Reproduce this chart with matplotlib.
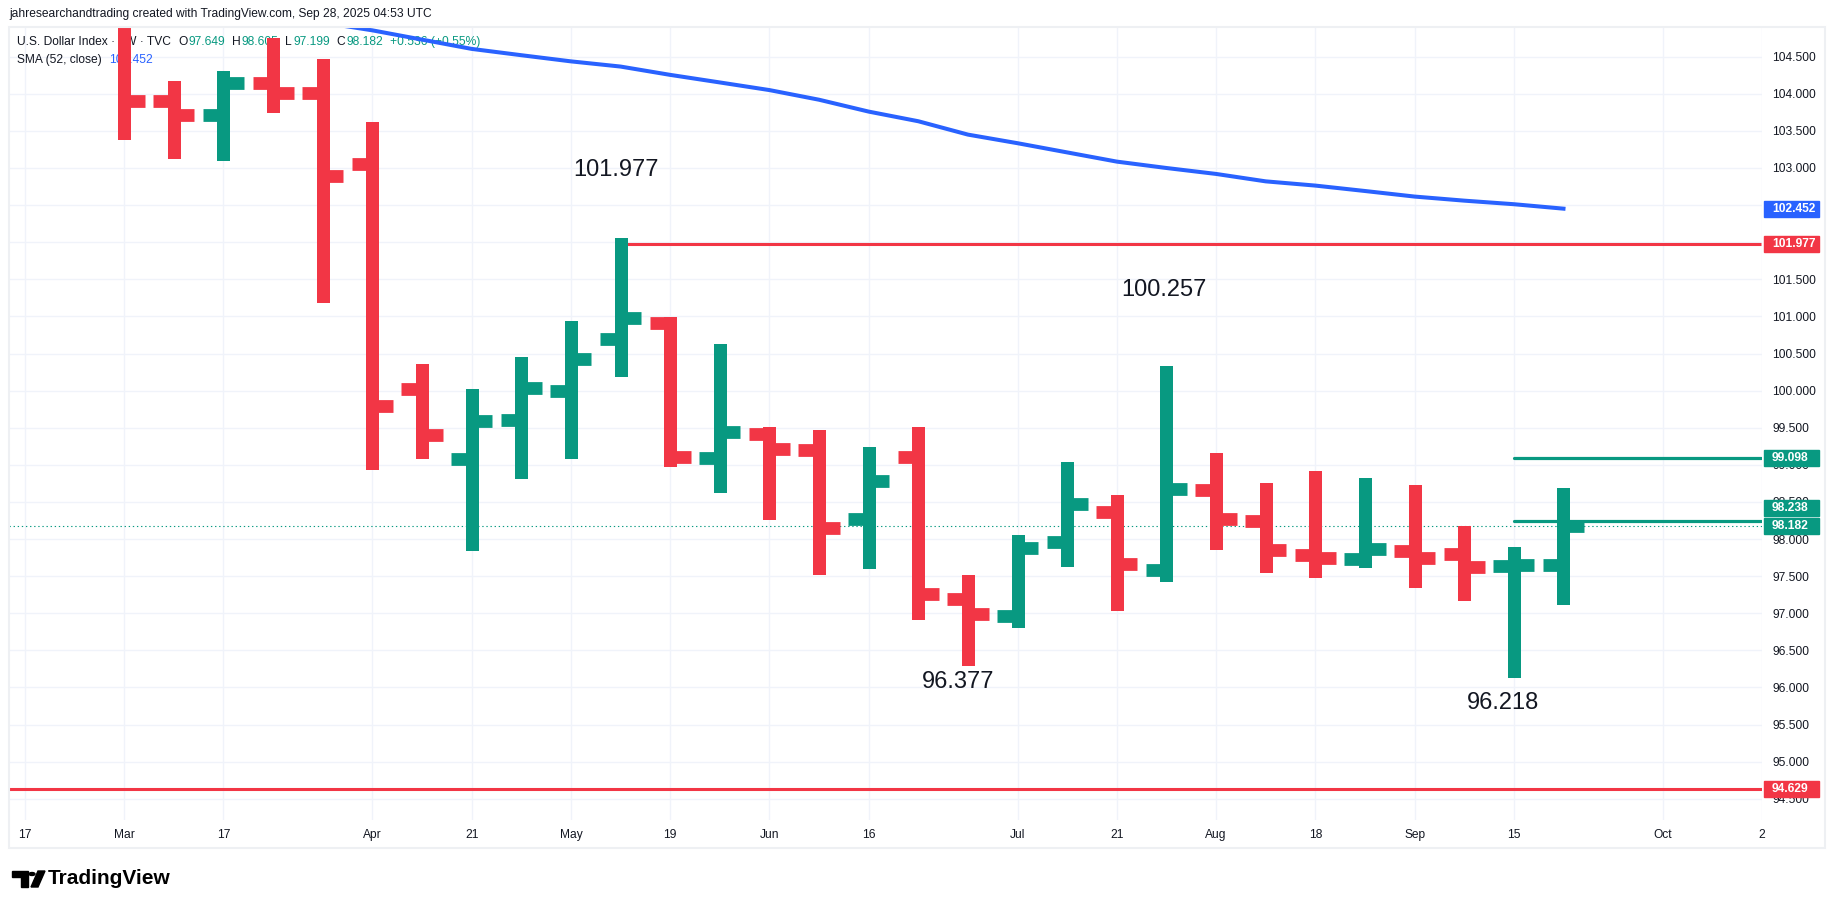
import matplotlib.pyplot as plt
import numpy as np
from matplotlib.patches import Rectangle, Circle, Polygon
from matplotlib.ticker import FormatStrFormatter
from matplotlib.transforms import blended_transform_factory, ScaledTranslation

plt.rcParams['font.family'] = ['Liberation Sans', 'DejaVu Sans']

# weekly OHLC, U.S. Dollar Index (TVC), weeks starting Mon 3 Mar 2025
weeks = np.arange('2025-03-03', '2025-09-29', 7, dtype='datetime64[D]')
opens = [107.60, 103.90, 103.72, 104.14, 104.01, 103.06, 100.02, 99.08, 99.61, 100.00,
         100.69, 100.91, 99.09, 99.41, 99.20, 98.27, 99.10, 97.19, 96.96, 97.96,
         98.36, 97.58, 98.66, 98.24, 97.79, 97.73, 97.84, 97.80, 97.64, 97.649]
highs = [107.65, 104.09, 104.22, 104.67, 104.39, 103.54, 100.28, 99.94, 100.37, 100.86,
         101.977, 100.91, 100.55, 99.43, 99.39, 99.16, 99.43, 97.44, 97.98, 98.96,
         98.51, 100.257, 99.08, 98.68, 98.84, 98.74, 98.65, 98.10, 97.81, 98.605]
lows = [103.47, 103.22, 103.19, 103.84, 101.27, 99.02, 99.17, 97.93, 98.90, 99.17,
        100.28, 99.06, 98.71, 98.35, 97.61, 97.69, 97.01, 96.377, 96.90, 97.72,
        97.13, 97.51, 97.95, 97.64, 97.57, 97.70, 97.43, 97.26, 96.218, 97.199]
closes = [103.90, 103.72, 104.14, 104.01, 102.89, 99.79, 99.40, 99.59, 100.03, 100.42,
          100.98, 99.10, 99.44, 99.21, 98.15, 98.78, 97.26, 96.99, 97.88, 98.47,
          97.67, 98.68, 98.27, 97.85, 97.74, 97.86, 97.74, 97.62, 97.65, 98.182]

# SMA(52, close) from the week of 31 Mar onwards
sma_start = 4
sma = [104.96, 104.855, 104.73, 104.605, 104.52, 104.437, 104.367, 104.255, 104.153, 104.05,
       103.92, 103.76, 103.63, 103.45, 103.334, 103.21, 103.086, 103.00, 102.92, 102.82,
       102.763, 102.69, 102.615, 102.56, 102.512, 102.452]

tick_dates = np.array(['2025-02-17', '2025-03-03', '2025-03-17', '2025-04-07', '2025-04-21',
                       '2025-05-05', '2025-05-19', '2025-06-02', '2025-06-16', '2025-07-07',
                       '2025-07-21', '2025-08-04', '2025-08-18', '2025-09-01', '2025-09-15',
                       '2025-10-06', '2025-10-20'], dtype='datetime64[D]')
tick_labels = ['17', 'Mar', '17', 'Apr', '21', 'May', '19', 'Jun', '16', 'Jul', '21',
               'Aug', '18', 'Sep', '15', 'Oct', '2']

resistance = 101.977
support = 94.629
green_levels = [99.098, 98.238]
last_close = 98.182

RED = '#F23645'
GREEN = '#089981'
BLUE = '#2962FF'
TXT = '#131722'
GRID = '#F0F3FA'

W, H = 1835, 909
fig = plt.figure(figsize=(W / 100, H / 100), dpi=100)
ax = fig.add_axes([9 / W, 89 / H, 1753 / W, 793 / H])

x = (weeks - weeks[0]).astype(int) / 7
tick_x = (tick_dates - weeks[0]).astype(int) / 7
xmin, xmax = -2.322, 32.985
ax.set_xlim(xmin, xmax)
ax.set_ylim(94.214, 104.90)

# bars
for i in range(len(x)):
    col = GREEN if closes[i] >= opens[i] else RED
    ax.plot([x[i], x[i]], [lows[i], highs[i]], color=col, lw=9.36,
            solid_capstyle='projecting', zorder=4)
    ax.plot([x[i] - 0.415, x[i]], [opens[i], opens[i]], color=col, lw=9.2,
            solid_capstyle='butt', zorder=4)
    ax.plot([x[i], x[i] + 0.415], [closes[i], closes[i]], color=col, lw=9.2,
            solid_capstyle='butt', zorder=4)

ax.plot(x[sma_start:], sma, color=BLUE, lw=2.9, zorder=5, solid_joinstyle='round')

# levels
ax.hlines(resistance, x[10], xmax, color=RED, lw=2.2, zorder=3)
ax.axhline(support, color=RED, lw=2.2, zorder=3)
gl = ax.hlines(green_levels, x[28], xmax, color=GREEN, lw=2.3, zorder=3)
gl.set_capstyle('round')
ax.axhline(last_close, color=GREEN, lw=0.8, ls=(0, (1.2, 2.5)), zorder=2)

# big labels
big = dict(fontsize=17, color=TXT, ha='center', va='center', textcoords='offset points')
ax.annotate('101.977', (x[10], highs[10]), xytext=(-3, 53), **big)
ax.annotate('100.257', (x[21], highs[21]), xytext=(-2, 59), **big)
ax.annotate('96.377', (x[17], lows[17]), xytext=(-7, -16.5), **big)
ax.annotate('96.218', (x[28], lows[28]), xytext=(-8, -23), **big)

# axes styling
for s in ax.spines.values():
    s.set_visible(False)
ax.grid(True, color=GRID, lw=1)
ax.set_axisbelow(True)
ax.yaxis.tick_right()
ax.set_yticks(np.arange(94.5, 104.51, 0.5))
ax.yaxis.set_major_formatter(FormatStrFormatter('%.3f'))
ax.tick_params(axis='y', length=0, pad=7.2, labelsize=8.64, labelcolor=TXT)
ax.set_xticks(tick_x, tick_labels)
ax.tick_params(axis='x', length=0, pad=6.5, labelsize=8.64, labelcolor=TXT)

# price tags on the axis
btrans = blended_transform_factory(ax.transAxes, ax.transData)
tag_h = 16 / 74.2


def price_tag(val, col, shift_px=0):
    tr = btrans + ScaledTranslation(0, shift_px / 100, fig.dpi_scale_trans)
    ax.add_patch(Rectangle((1755 / 1753, val - tag_h / 2), 55 / 1753, tag_h,
                           transform=tr, color=col, clip_on=False, zorder=6))
    ax.text(1763 / 1753, val, f'{val:.3f}', transform=tr, color='white',
            fontsize=8.64, fontweight='bold', va='center', ha='left',
            clip_on=False, zorder=7)


price_tag(sma[-1], BLUE)
price_tag(resistance, RED)
price_tag(green_levels[0], GREEN)
price_tag(green_levels[1], GREEN, shift_px=13)
price_tag(last_close, GREEN)
price_tag(support, RED)

# legend text inside the pane (below the bars), pieces chained one after another
fig.canvas.draw()
rend = fig.canvas.get_renderer()


def legend_row(py, pieces, start=17):
    px = start
    for s, col, gap in pieces:
        t = ax.text((px - 9) / 1753, (820 - py) / 793, s, transform=ax.transAxes,
                    color=col, fontsize=8.64, va='center', ha='left', zorder=1)
        bb = t.get_window_extent(renderer=rend)
        px = bb.x1 + gap


legend_row(42, [('U.S. Dollar Index · 1W · TVC', TXT, 7),
                ('O', TXT, 1), ('97.649', GREEN, 7),
                ('H', TXT, 1), ('98.605', GREEN, 7),
                ('L', TXT, 1), ('97.199', GREEN, 7),
                ('C', TXT, 1), ('98.182', GREEN, 7),
                ('+0.536 (+0.55%)', GREEN, 0)])
legend_row(60, [('SMA (52, close)', TXT, 7), ('102.452', BLUE, 0)])

# header and frame
fig.text(9 / W, 1 - 14 / H, 'jahresearchandtrading created with TradingView.com, Sep 28, 2025 04:53 UTC',
         fontsize=8.64, color=TXT, va='center', ha='left')
fig.add_artist(Rectangle((9 / W, 1 - 848 / H), 1816 / W, 821 / H, transform=fig.transFigure,
                         fill=False, ec='#EEF0F3', lw=1.5))


# TradingView logo
def fpt(px, py):
    return (px / W, 1 - py / H)


fig.add_artist(Polygon([fpt(12, 871), fpt(28, 871), fpt(28, 887), fpt(21, 887),
                        fpt(21, 877), fpt(12, 877)], closed=True, color='black',
                       transform=fig.transFigure))
fig.add_artist(Circle(fpt(32, 874), 3 / W, color='black', transform=fig.transFigure))
fig.add_artist(Polygon([fpt(38, 871), fpt(45, 871), fpt(38, 887), fpt(31, 887)], closed=True,
                       color='black', transform=fig.transFigure))
fig.text(48 / W, 1 - 879 / H, 'TradingView', fontsize=15, fontweight='bold', color='black',
         va='center', ha='left')

fig.savefig('out.png', dpi=100)
